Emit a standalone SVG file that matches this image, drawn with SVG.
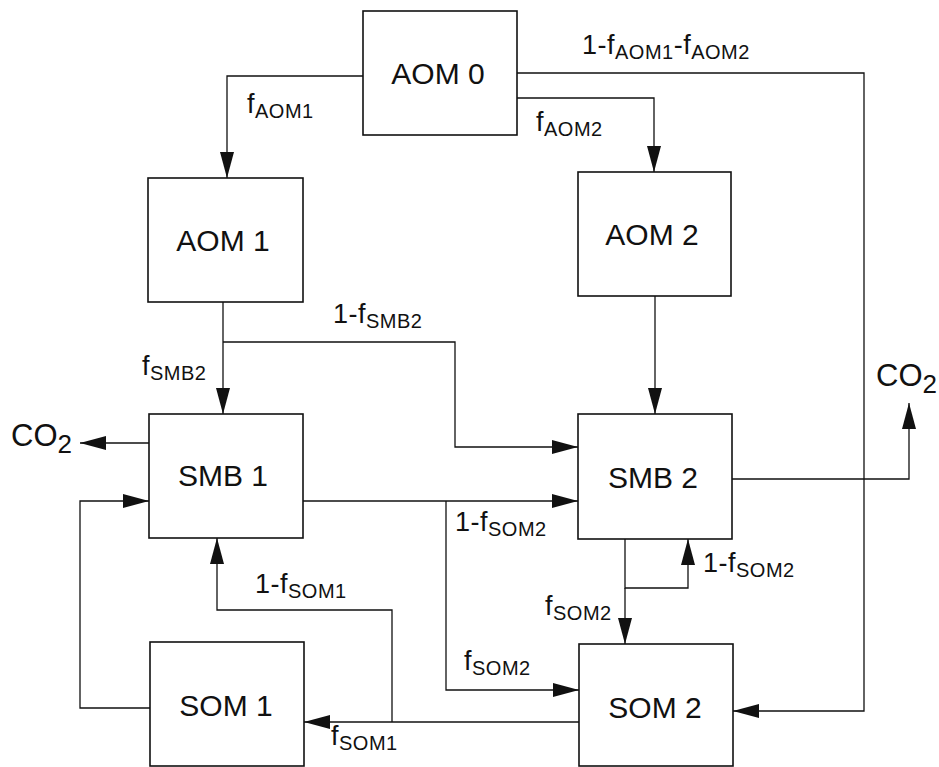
<svg xmlns="http://www.w3.org/2000/svg" width="939" height="767" viewBox="0 0 939 767">
<defs>
<marker id="arr" markerUnits="userSpaceOnUse" markerWidth="26" markerHeight="14" viewBox="0 0 26 14" refX="26" refY="7" orient="auto">
<path d="M0,0 L26,7 L0,14 z" fill="#111"/>
</marker>
</defs>
<style>
.box{fill:#fff;stroke:#111;stroke-width:1.6}
.bt{font-family:"Liberation Sans",Arial,sans-serif;font-size:30px;fill:#111;text-anchor:middle}
.ln{fill:none;stroke:#111;stroke-width:1.3}
.ar{marker-end:url(#arr)}
.lb{font-family:"Liberation Sans",Arial,sans-serif;font-size:27px;fill:#111;letter-spacing:0.5px}
.sb{font-size:20px}
.co{font-family:"Liberation Sans",Arial,sans-serif;font-size:31px;fill:#111}
.c2{font-size:26px}
</style>
<rect width="939" height="767" fill="#fff"/>
<g id="connectors">
<path class="ln ar" d="M363,76 H227 V178"/>
<path class="ln ar" d="M517,98 H654 V172"/>
<path class="ln ar" d="M517,73 H864 V711 H733"/>
<path class="ln ar" d="M223,302 V414"/>
<path class="ln ar" d="M223,342 H455 V447 H578"/>
<path class="ln ar" d="M655,296 V414"/>
<path class="ln ar" d="M149,443 H80"/>
<path class="ln ar" d="M732,479 H909 V403"/>
<path class="ln ar" d="M303,501 H578"/>
<path class="ln ar" d="M446,501 V690 H579"/>
<path class="ln ar" d="M625,539 V588 H688 V539"/>
<path class="ln ar" d="M625,588 V644"/>
<path class="ln ar" d="M579,722 H304"/>
<path class="ln ar" d="M392,722 V610 H217 V538"/>
<path class="ln ar" d="M150,708 H80 V501 H149"/>
</g>
<g id="labels">
<text class="lb" x="247" y="113">f<tspan class="sb" dy="5">AOM1</tspan></text>
<text class="lb" x="536" y="131">f<tspan class="sb" dy="5">AOM2</tspan></text>
<text class="lb" x="582" y="54">1-f<tspan class="sb" dy="5">AOM1</tspan><tspan dy="-5">-f</tspan><tspan class="sb" dy="5">AOM2</tspan></text>
<text class="lb" x="333" y="323">1-f<tspan class="sb" dy="5">SMB2</tspan></text>
<text class="lb" x="142" y="375">f<tspan class="sb" dy="5">SMB2</tspan></text>
<text class="lb" x="455" y="531">1-f<tspan class="sb" dy="5">SOM2</tspan></text>
<text class="lb" x="703" y="572">1-f<tspan class="sb" dy="5">SOM2</tspan></text>
<text class="lb" x="545" y="615">f<tspan class="sb" dy="5">SOM2</tspan></text>
<text class="lb" x="464" y="670">f<tspan class="sb" dy="5">SOM2</tspan></text>
<text class="lb" x="255" y="593">1-f<tspan class="sb" dy="5">SOM1</tspan></text>
<text class="lb" x="331" y="745">f<tspan class="sb" dy="5">SOM1</tspan></text>
<text class="co" x="11" y="446">CO<tspan class="c2" dy="7">2</tspan></text>
<text class="co" x="876" y="386">CO<tspan class="c2" dy="7">2</tspan></text>
</g>
<g id="AOM0"><rect class="box" x="363" y="11" width="154" height="124"/><text class="bt" x="438" y="84">AOM 0</text></g>
<g id="AOM1"><rect class="box" x="148" y="178" width="155" height="124"/><text class="bt" x="223" y="251">AOM 1</text></g>
<g id="AOM2"><rect class="box" x="578" y="172" width="153" height="124"/><text class="bt" x="652" y="245">AOM 2</text></g>
<g id="SMB1"><rect class="box" x="149" y="414" width="154" height="124"/><text class="bt" x="223" y="486">SMB 1</text></g>
<g id="SMB2"><rect class="box" x="578" y="414" width="154" height="125"/><text class="bt" x="653" y="488">SMB 2</text></g>
<g id="SOM1"><rect class="box" x="150" y="642" width="154" height="124"/><text class="bt" x="226" y="716">SOM 1</text></g>
<g id="SOM2"><rect class="box" x="579" y="644" width="154" height="122"/><text class="bt" x="655" y="718">SOM 2</text></g>
</svg>
